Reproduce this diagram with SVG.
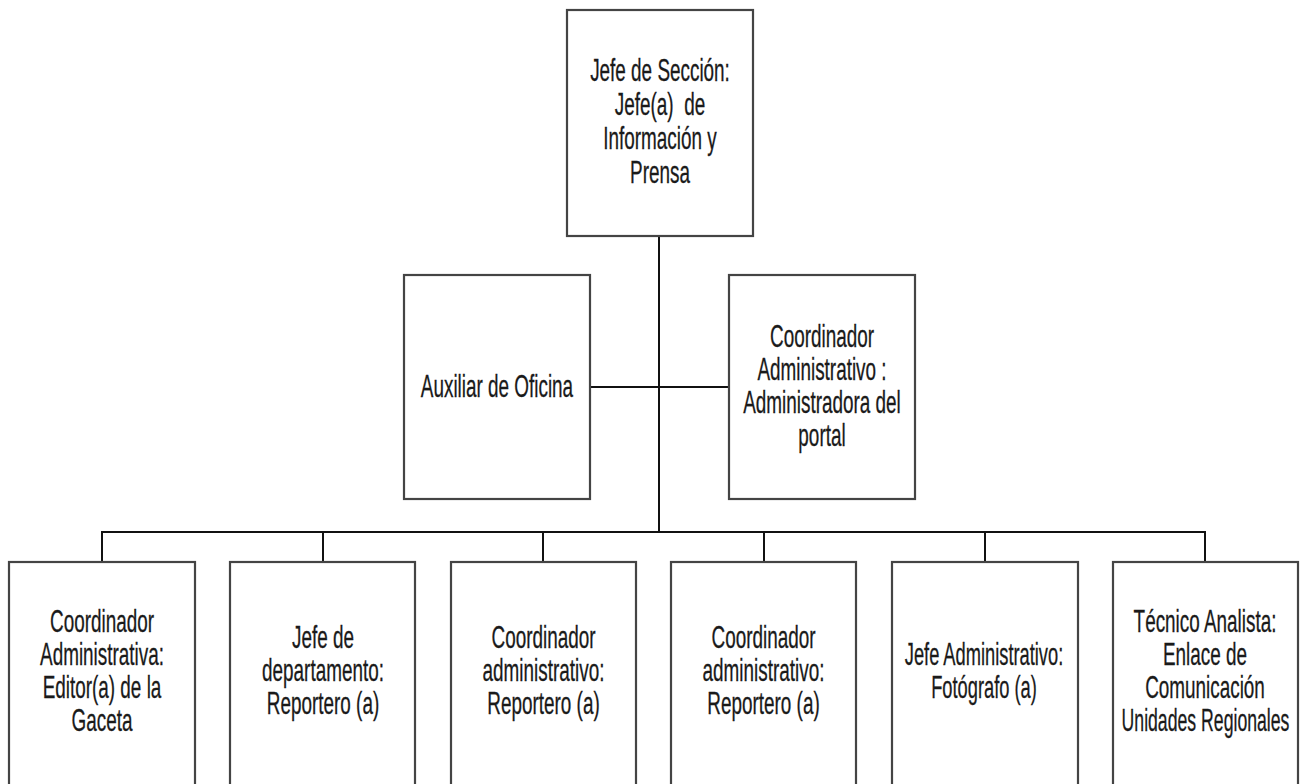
<svg xmlns="http://www.w3.org/2000/svg" width="1308" height="784" viewBox="0 0 1308 784">
<style>
.box{fill:#fff;stroke:#444;stroke-width:2.2}
.ln{fill:none;stroke:#111;stroke-width:2}
text{font-family:"Liberation Sans",Arial,sans-serif;font-size:31px;fill:#1a1a1a;text-anchor:middle;stroke:#1a1a1a;stroke-width:0.3}
</style>
<rect width="1308" height="784" fill="#fff"/>
<g id="connectors">
<line class="ln" x1="659" y1="236" x2="659" y2="532"/>
<line class="ln" x1="590" y1="387" x2="729" y2="387"/>
<polyline class="ln" points="102,562 102,532 1205,532 1205,562"/>
<line class="ln" x1="323" y1="532" x2="323" y2="562"/>
<line class="ln" x1="543" y1="532" x2="543" y2="562"/>
<line class="ln" x1="764" y1="532" x2="764" y2="562"/>
<line class="ln" x1="985" y1="532" x2="985" y2="562"/>
</g>
<g id="jefe-seccion">
<rect class="box" x="567" y="10" width="186" height="226"/>
<g transform="translate(660 0) scale(0.61 1)">
<text x="0" y="81">Jefe de Sección:</text>
<text x="0" y="115" xml:space="preserve">Jefe(a)  de</text>
<text x="0" y="149">Información y</text>
<text x="0" y="183">Prensa</text>
</g>
</g>
<g id="auxiliar">
<rect class="box" x="404" y="275" width="186" height="224"/>
<g transform="translate(497 0) scale(0.61 1)">
<text x="0" y="397">Auxiliar de Oficina</text>
</g>
</g>
<g id="coord-portal">
<rect class="box" x="729" y="275" width="186" height="224"/>
<g transform="translate(822 0) scale(0.61 1)">
<text x="0" y="347">Coordinador</text>
<text x="0" y="380">Administrativo :</text>
<text x="0" y="413">Administradora del</text>
<text x="0" y="446">portal</text>
</g>
</g>
<g id="editor-gaceta">
<rect class="box" x="9" y="562" width="186" height="240"/>
<g transform="translate(102 0) scale(0.61 1)">
<text x="0" y="632">Coordinador</text>
<text x="0" y="665">Administrativa:</text>
<text x="0" y="698">Editor(a) de la</text>
<text x="0" y="731">Gaceta</text>
</g>
</g>
<g id="reportero-1">
<rect class="box" x="230" y="562" width="185" height="240"/>
<g transform="translate(323 0) scale(0.61 1)">
<text x="0" y="648">Jefe de</text>
<text x="0" y="681">departamento:</text>
<text x="0" y="714">Reportero (a)</text>
</g>
</g>
<g id="reportero-2">
<rect class="box" x="451" y="562" width="185" height="240"/>
<g transform="translate(543.5 0) scale(0.61 1)">
<text x="0" y="648">Coordinador</text>
<text x="0" y="681">administrativo:</text>
<text x="0" y="714">Reportero (a)</text>
</g>
</g>
<g id="reportero-3">
<rect class="box" x="671" y="562" width="185" height="240"/>
<g transform="translate(763.5 0) scale(0.61 1)">
<text x="0" y="648">Coordinador</text>
<text x="0" y="681">administrativo:</text>
<text x="0" y="714">Reportero (a)</text>
</g>
</g>
<g id="fotografo">
<rect class="box" x="892" y="562" width="186" height="240"/>
<g transform="translate(984 0) scale(0.59 1)">
<text x="0" y="665">Jefe Administrativo:</text>
<text x="0" y="698">Fotógrafo (a)</text>
</g>
</g>
<g id="enlace">
<rect class="box" x="1113" y="562" width="185" height="240"/>
<g transform="translate(1205 0) scale(0.61 1)">
<text x="0" y="632">Técnico Analista:</text>
<text x="0" y="665">Enlace de</text>
<text x="0" y="698">Comunicación</text>
</g>
<g transform="translate(1205.5 0) scale(0.57 1)">
<text x="0" y="731">Unidades Regionales</text>
</g>
</g>
</svg>
